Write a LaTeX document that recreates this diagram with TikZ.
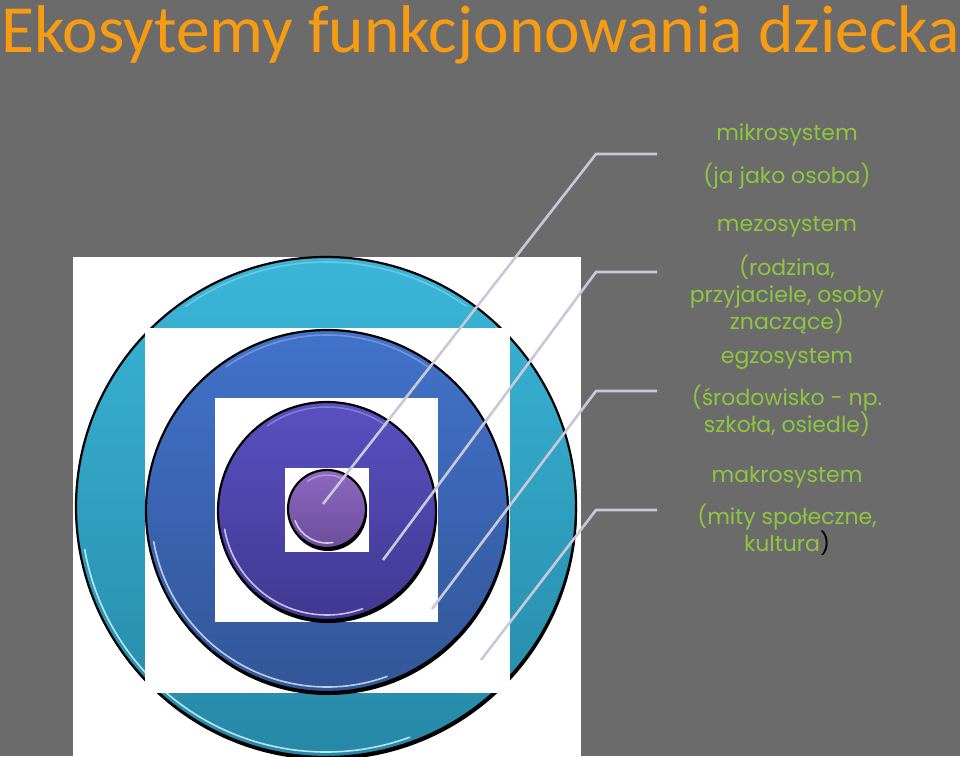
\documentclass[tikz,border=0pt]{standalone}
\usepackage{fontspec}
\usepackage{tikz}
\usetikzlibrary{shadows}
\newfontfamily\titlefont{Carlito}
\newfontfamily\labelfont{Poppins}
\definecolor{slidegray}{RGB}{107,107,107}
\definecolor{titleorange}{RGB}{247,155,18}
\definecolor{labelgreen}{RGB}{142,198,63}
\definecolor{leadergray}{RGB}{200,200,218}
\definecolor{cyantop}{RGB}{58,182,216}
\definecolor{cyanbot}{RGB}{38,136,166}
\definecolor{bluetop}{RGB}{66,114,202}
\definecolor{bluebot}{RGB}{50,86,152}
\definecolor{violettop}{RGB}{90,80,192}
\definecolor{violetbot}{RGB}{66,56,146}
\definecolor{plumtop}{RGB}{142,104,192}
\definecolor{plumbot}{RGB}{108,78,156}
\tikzset{
  ring/.style={circle, inner sep=0pt, draw=black, line width=2.2pt,
    drop shadow={shadow xshift=1pt, shadow yshift=-3pt, fill=black, opacity=1}},
  glint/.style={line width=1.6pt, line cap=round},
  leader/.style={draw=leadergray, line width=2.6pt},
  heading/.style={font=\labelfont\fontsize{22}{27}\selectfont, text=labelgreen, inner sep=0pt},
  blurb/.style={heading, align=center}
}
\begin{document}
\begin{tikzpicture}[x=1pt, y=1pt]
        % Slide background
        \fill[slidegray] (0,0) rectangle (960,-756);
        \useasboundingbox (0,0) rectangle (960,-756);

        % Title
        \node[anchor=base west, inner sep=0pt, text=titleorange,
              font=\titlefont\fontsize{67.5}{72}\selectfont] (title) at (1,-52)
              {Ekosytemy funkcjonowania dziecka};

        % Makrosystem: white square and outer ring
        \fill[white] (73,-257) rectangle (581,-756);
        \node[ring, minimum size=500pt, top color=cyantop, bottom color=cyanbot] (makro) at (326,-507) {};
        \draw[glint, cyantop!35!white] (makro.center) ++(190:245) arc[start angle=190, end angle=290, radius=245];
        \draw[glint, cyantop!75!white] (makro.center) ++(55:245) arc[start angle=55, end angle=125, radius=245];

        % Egzosystem
        \fill[white] (145,-328) rectangle (510,-693);
        \node[ring, minimum size=362pt, top color=bluetop, bottom color=bluebot] (egzo) at (327,-511) {};
        \draw[glint, bluetop!35!white] (egzo.center) ++(190:176) arc[start angle=190, end angle=290, radius=176];
        \draw[glint, bluetop!75!white] (egzo.center) ++(55:176) arc[start angle=55, end angle=125, radius=176];

        % Mezosystem
        \fill[white] (215,-398) rectangle (438,-622);
        \node[ring, minimum size=218pt, top color=violettop, bottom color=violetbot] (mezo) at (327,-511) {};
        \draw[glint, violettop!35!white] (mezo.center) ++(190:104) arc[start angle=190, end angle=290, radius=104];
        \draw[glint, violettop!75!white] (mezo.center) ++(55:104) arc[start angle=55, end angle=125, radius=104];

        % Mikrosystem
        \fill[white] (285,-468) rectangle (369,-552);
        \node[ring, minimum size=78pt, top color=plumtop, bottom color=plumbot] (mikro) at (327,-509) {};
        \draw[glint, plumtop!35!white] (mikro.center) ++(200:34) arc[start angle=200, end angle=280, radius=34];
        \draw[glint, plumtop!70!white] (mikro.center) ++(60:34) arc[start angle=60, end angle=125, radius=34];

        % Leader lines
        \coordinate (mikroIn) at (323,-504);
        \coordinate (mikroKnee) at (596,-154);
        \coordinate (mikroTip) at (657,-154);
        \coordinate (mezoIn) at (383,-560);
        \coordinate (mezoKnee) at (596,-272);
        \coordinate (mezoTip) at (657,-272);
        \coordinate (egzoIn) at (432,-609);
        \coordinate (egzoKnee) at (596,-391);
        \coordinate (egzoTip) at (657,-391);
        \coordinate (makroIn) at (481,-660);
        \coordinate (makroKnee) at (596,-510);
        \coordinate (makroTip) at (657,-510);
        \draw[leader] (mikroIn) -- (mikroKnee) -- (mikroTip);
        \draw[leader] (mezoIn) -- (mezoKnee) -- (mezoTip);
        \draw[leader] (egzoIn) -- (egzoKnee) -- (egzoTip);
        \draw[leader] (makroIn) -- (makroKnee) -- (makroTip);

        % Labels
        \node[heading] (mikroHead) at (787,-135) {mikrosystem};
        \node[blurb] (mikroText) at (787,-176) {(ja jako osoba)};
        \node[heading] (mezoHead) at (787,-227) {mezosystem};
        \node[blurb] (mezoText) at (787,-294) {(rodzina,\\przyjaciele, osoby\\znaczące)};
        \node[heading] (egzoHead) at (787,-359) {egzosystem};
        \node[blurb] (egzoText) at (787,-411) {(środowisko - np.\\szkoła, osiedle)};
        \node[heading] (makroHead) at (787,-477) {makrosystem};
        \node[blurb] (makroText) at (787,-530) {(mity społeczne,\\kultura{\color{black})}};
    \end{tikzpicture}
\end{document}
